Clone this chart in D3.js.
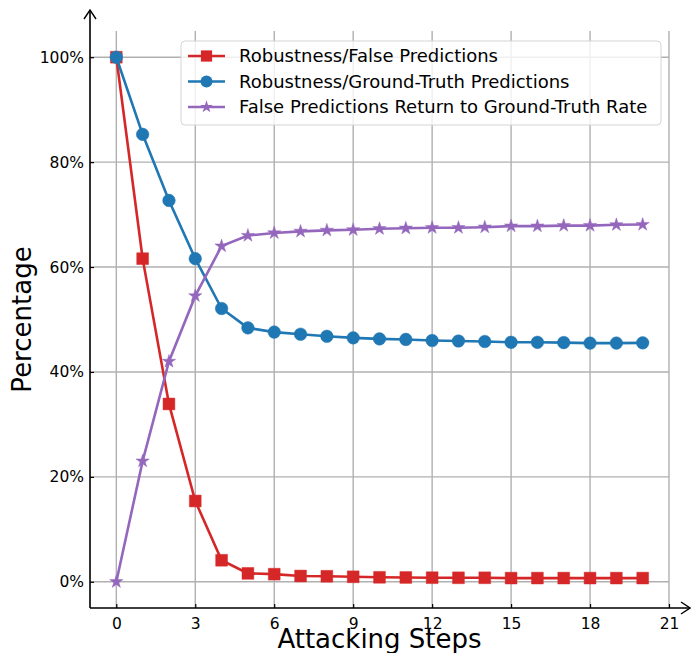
<!DOCTYPE html>
<html>
<head>
<meta charset="utf-8">
<script src="https://cdn.jsdelivr.net/npm/d3@7"></script>
<style>
  body { margin: 0; background: #fff; }
  svg { display: block; font-family: "DejaVu Sans", sans-serif; }
</style>
</head>
<body>
<svg id="chart" width="691" height="653"></svg>
<script>
// data
const steps = d3.range(0, 21)
const robustFalse = [100, 61.6, 33.9, 15.4, 4.1, 1.6, 1.45, 1.1, 1.05, 0.95, 0.85, 0.82, 0.78, 0.76, 0.76, 0.7, 0.7, 0.7, 0.7, 0.7, 0.7]
const robustTruth = [100, 85.3, 72.7, 61.6, 52.1, 48.4, 47.6, 47.2, 46.8, 46.5, 46.3, 46.2, 46.0, 45.9, 45.8, 45.65, 45.65, 45.6, 45.5, 45.5, 45.55]
const returnRate = [0, 23.0, 42.0, 54.5, 64.0, 66.0, 66.5, 66.8, 67.0, 67.1, 67.3, 67.4, 67.5, 67.5, 67.6, 67.8, 67.8, 67.9, 67.9, 68.05, 68.1]
const xTicks = [0, 3, 6, 9, 12, 15, 18, 21]
const yTicks = [0, 20, 40, 60, 80, 100]

const series = [
  { name: 'Robustness/False Predictions', values: robustFalse, color: '#d62728', marker: 'square' },
  { name: 'Robustness/Ground-Truth Predictions', values: robustTruth, color: '#1f77b4', marker: 'circle' },
  { name: 'False Predictions Return to Ground-Truth Rate', values: returnRate, color: '#9467bd', marker: 'star' }
]

const margin = { top: 31, right: 22, bottom: 45, left: 90 }
const width = 691, height = 653
const innerWidth = width - margin.left - margin.right
const innerHeight = height - margin.top - margin.bottom

const svg = d3.select('#chart')
const g = svg.append('g').attr('transform', `translate(${margin.left},${margin.top})`)

const x = d3.scaleLinear().domain([-1, 21]).range([0, innerWidth])
const y = d3.scaleLinear().domain([-5, 105]).range([innerHeight, 0])

// grid
g.append('g').selectAll('line').data(xTicks).enter().append('line')
  .attr('x1', d => x(d)).attr('x2', d => x(d))
  .attr('y1', 0).attr('y2', innerHeight)
  .attr('stroke', '#b0b0b0').attr('stroke-width', 1.4)
g.append('g').selectAll('line').data(yTicks).enter().append('line')
  .attr('x1', 0).attr('x2', innerWidth)
  .attr('y1', d => y(d)).attr('y2', d => y(d))
  .attr('stroke', '#b0b0b0').attr('stroke-width', 1.4)

// axes, ticks pointing inward
const xAxis = g.append('g').attr('transform', `translate(0,${innerHeight})`)
  .call(d3.axisBottom(x).tickValues(xTicks).tickSizeInner(-4).tickSizeOuter(0).tickPadding(10))
const yAxis = g.append('g')
  .call(d3.axisLeft(y).tickValues(yTicks).tickFormat(d => d + '%').tickSizeInner(-4).tickSizeOuter(0).tickPadding(6))
;[xAxis, yAxis].forEach(a => {
  a.select('.domain').remove()
  a.selectAll('text').attr('font-family', '"DejaVu Sans", sans-serif').attr('font-size', 15.5).attr('fill', '#000')
  a.selectAll('.tick line').attr('stroke', '#000').attr('stroke-width', 1.2)
})

// axis lines with open arrowheads
const axisPath = d3.path()
axisPath.moveTo(0, innerHeight); axisPath.lineTo(width - margin.left - 1, innerHeight)
axisPath.moveTo(0, innerHeight); axisPath.lineTo(0, 10 - margin.top)
g.append('path').attr('d', axisPath.toString()).attr('fill', 'none').attr('stroke', '#000').attr('stroke-width', 1.6)
g.append('path')
  .attr('d', `M${width - margin.left - 10},${innerHeight - 6} L${width - margin.left - 1},${innerHeight} L${width - margin.left - 10},${innerHeight + 6}`)
  .attr('fill', 'none').attr('stroke', '#000').attr('stroke-width', 1.4)
g.append('path')
  .attr('d', `M-6,${10 - margin.top + 9} L0,${10 - margin.top} L6,${10 - margin.top + 9}`)
  .attr('fill', 'none').attr('stroke', '#000').attr('stroke-width', 1.4)

// marker shapes
const symbolFor = (m, k = 1) => m === 'square' ? d3.symbol(d3.symbolSquare, 140 * k)
  : m === 'circle' ? d3.symbol(d3.symbolCircle, 125 * k)
  : d3.symbol(d3.symbolStar, 55 * k)

const line = d3.line().x((d, i) => x(steps[i])).y(d => y(d))

series.forEach(s => {
  g.append('path').datum(s.values)
    .attr('d', line)
    .attr('fill', 'none').attr('stroke', s.color).attr('stroke-width', 2.6)
  g.append('g').selectAll('path').data(s.values).enter().append('path')
    .attr('transform', (d, i) => `translate(${x(steps[i])},${y(d)})`)
    .attr('d', symbolFor(s.marker))
    .attr('fill', s.color)
    .attr('stroke', s.color).attr('stroke-opacity', 0.45).attr('stroke-width', 1)
})

// legend
const lg = svg.append('g').attr('transform', 'translate(181,41)')
lg.append('rect').attr('width', 480).attr('height', 84).attr('rx', 4)
  .attr('fill', '#fff').attr('fill-opacity', 0.8)
  .attr('stroke', '#d5d5d5').attr('stroke-width', 1)
series.forEach((s, i) => {
  const row = lg.append('g').attr('transform', `translate(0,${15 + i * 25.5})`)
  row.append('line').attr('x1', 7).attr('x2', 44).attr('stroke', s.color).attr('stroke-width', 2.6)
  row.append('path').attr('transform', 'translate(25.5,0)').attr('d', symbolFor(s.marker, 0.9))
    .attr('fill', s.color)
  row.append('text').attr('x', 58).attr('dy', '0.35em')
    .attr('font-size', 18).attr('fill', '#000').text(s.name)
})

// axis titles
svg.append('text')
  .attr('x', margin.left + innerWidth / 2).attr('y', 648)
  .attr('text-anchor', 'middle').attr('font-size', 26).text('Attacking Steps')
svg.append('text')
  .attr('transform', `translate(31,${margin.top + innerHeight / 2}) rotate(-90)`)
  .attr('text-anchor', 'middle').attr('font-size', 26).text('Percentage')
</script>
</body>
</html>
